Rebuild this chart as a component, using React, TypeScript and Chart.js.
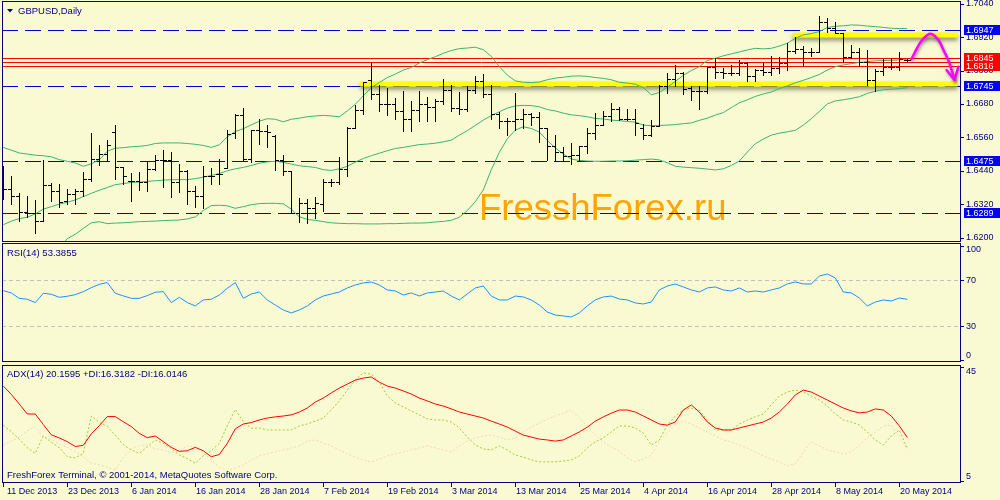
import { useEffect, useRef } from 'react';
import { Chart, registerables } from 'chart.js';

Chart.register(...registerables);

// ---------- text ----------
const SYMBOL_TITLE = 'GBPUSD,Daily';
const RSI_TITLE = 'RSI(14) 53.3855';
const ADX_TITLE = 'ADX(14) 20.1595 +DI:16.3182 -DI:16.0146';
const COPYRIGHT = 'FreshForex Terminal, \u00a9 2001-2014, MetaQuotes Software Corp.';
const WATERMARK = 'FresshForex.ru';

// ---------- x axis ----------
const DATE_LABELS = ['11 Dec 2013', '23 Dec 2013', '6 Jan 2014', '16 Jan 2014', '28 Jan 2014', '7 Feb 2014', '19 Feb 2014', '3 Mar 2014', '13 Mar 2014', '25 Mar 2014', '4 Apr 2014', '16 Apr 2014', '28 Apr 2014', '8 May 2014', '20 May 2014'];
const DATE_STEP = 8;
const X_MIN = -0.16;
const X_MAX = 119.71;

// ---------- price (OHLC) ----------
const OPEN = [1.6400, 1.6374, 1.6350, 1.6293, 1.6290, 1.6261, 1.6390, 1.6368, 1.6332, 1.6356,
  1.6369, 1.6410, 1.6482, 1.6500, 1.6579, 1.6452, 1.6402, 1.6402, 1.6398, 1.6446,
  1.6480, 1.6480, 1.6398, 1.6440, 1.6368, 1.6351, 1.6422, 1.6428, 1.6450, 1.6576,
  1.6639, 1.6482, 1.6585, 1.6582, 1.6564, 1.6480, 1.6438, 1.6290, 1.6323, 1.6305,
  1.6321, 1.6398, 1.6398, 1.6446, 1.6594, 1.6658, 1.6766, 1.6715, 1.6681, 1.6681,
  1.6655, 1.6625, 1.6658, 1.6681, 1.6670, 1.6691, 1.6729, 1.6667, 1.6663, 1.6729,
  1.6763, 1.6715, 1.6643, 1.6619, 1.6619, 1.6625, 1.6643, 1.6634, 1.6594, 1.6528,
  1.6506, 1.6492, 1.6498, 1.6528, 1.6576, 1.6603, 1.6637, 1.6663, 1.6625, 1.6627,
  1.6593, 1.6569, 1.6602, 1.6745, 1.6769, 1.6793, 1.6737, 1.6728, 1.6728, 1.6812,
  1.6794, 1.6790, 1.6793, 1.6826, 1.6781, 1.6802, 1.6796, 1.6808, 1.6826, 1.6870,
  1.6876, 1.6868, 1.6865, 1.6976, 1.6952, 1.6934, 1.6848, 1.6865, 1.6832, 1.6767,
  1.6800, 1.6812, 1.6812, 1.6838];
const HIGH = [1.6458, 1.6422, 1.6359, 1.6350, 1.6335, 1.6478, 1.6396, 1.6393, 1.6374, 1.6374,
  1.6437, 1.6576, 1.6533, 1.6549, 1.6603, 1.6452, 1.6432, 1.6437, 1.6476, 1.6498,
  1.6516, 1.6506, 1.6465, 1.6441, 1.6384, 1.6458, 1.6450, 1.6482, 1.6588, 1.6643,
  1.6667, 1.6588, 1.6627, 1.6606, 1.6567, 1.6498, 1.6438, 1.6341, 1.6338, 1.6347,
  1.6410, 1.6410, 1.6488, 1.6598, 1.6675, 1.6760, 1.6829, 1.6747, 1.6739, 1.6703,
  1.6727, 1.6691, 1.6727, 1.6705, 1.6697, 1.6769, 1.6747, 1.6723, 1.6745, 1.6779,
  1.6787, 1.6747, 1.6651, 1.6631, 1.6718, 1.6663, 1.6649, 1.6651, 1.6594, 1.6567,
  1.6526, 1.6538, 1.6530, 1.6594, 1.6649, 1.6655, 1.6685, 1.6670, 1.6663, 1.6663,
  1.6609, 1.6623, 1.6749, 1.6793, 1.6820, 1.6795, 1.6743, 1.6745, 1.6814, 1.6844,
  1.6808, 1.6820, 1.6838, 1.6832, 1.6805, 1.6829, 1.6853, 1.6850, 1.6898, 1.6919,
  1.6888, 1.6880, 1.6996, 1.6988, 1.6976, 1.6934, 1.6892, 1.6880, 1.6874, 1.6805,
  1.6841, 1.6844, 1.6865, 1.6841];
const LOW = [1.6338, 1.6320, 1.6261, 1.6275, 1.6217, 1.6258, 1.6332, 1.6311, 1.6321, 1.6320,
  1.6350, 1.6402, 1.6462, 1.6474, 1.6410, 1.6393, 1.6332, 1.6371, 1.6368, 1.6441,
  1.6380, 1.6344, 1.6365, 1.6320, 1.6311, 1.6305, 1.6392, 1.6394, 1.6450, 1.6558,
  1.6480, 1.6470, 1.6537, 1.6526, 1.6441, 1.6425, 1.6287, 1.6255, 1.6251, 1.6269,
  1.6297, 1.6384, 1.6393, 1.6422, 1.6594, 1.6643, 1.6697, 1.6655, 1.6639, 1.6627,
  1.6582, 1.6582, 1.6619, 1.6619, 1.6619, 1.6679, 1.6655, 1.6643, 1.6655, 1.6718,
  1.6706, 1.6625, 1.6594, 1.6570, 1.6588, 1.6594, 1.6606, 1.6543, 1.6478, 1.6474,
  1.6474, 1.6465, 1.6474, 1.6504, 1.6555, 1.6603, 1.6619, 1.6622, 1.6622, 1.6570,
  1.6554, 1.6566, 1.6602, 1.6721, 1.6745, 1.6715, 1.6695, 1.6661, 1.6721, 1.6773,
  1.6773, 1.6784, 1.6784, 1.6761, 1.6764, 1.6784, 1.6784, 1.6790, 1.6802, 1.6862,
  1.6817, 1.6853, 1.6865, 1.6940, 1.6934, 1.6832, 1.6844, 1.6817, 1.6749, 1.6728,
  1.6784, 1.6805, 1.6802, 1.6836];
const CLOSE = [1.6374, 1.6350, 1.6293, 1.6290, 1.6261, 1.6390, 1.6368, 1.6327, 1.6356, 1.6369,
  1.6410, 1.6482, 1.6500, 1.6531, 1.6452, 1.6420, 1.6402, 1.6398, 1.6446, 1.6480,
  1.6480, 1.6398, 1.6440, 1.6368, 1.6351, 1.6422, 1.6422, 1.6428, 1.6573, 1.6639,
  1.6482, 1.6585, 1.6582, 1.6579, 1.6480, 1.6438, 1.6290, 1.6323, 1.6305, 1.6323,
  1.6398, 1.6398, 1.6446, 1.6594, 1.6658, 1.6760, 1.6715, 1.6681, 1.6681, 1.6655,
  1.6625, 1.6658, 1.6681, 1.6670, 1.6691, 1.6729, 1.6667, 1.6663, 1.6729, 1.6763,
  1.6715, 1.6643, 1.6619, 1.6619, 1.6625, 1.6643, 1.6634, 1.6594, 1.6528, 1.6506,
  1.6492, 1.6498, 1.6528, 1.6576, 1.6603, 1.6637, 1.6663, 1.6625, 1.6627, 1.6612,
  1.6569, 1.6602, 1.6745, 1.6769, 1.6793, 1.6733, 1.6728, 1.6728, 1.6812, 1.6794,
  1.6790, 1.6790, 1.6826, 1.6781, 1.6802, 1.6796, 1.6808, 1.6826, 1.6870, 1.6876,
  1.6868, 1.6865, 1.6976, 1.6952, 1.6934, 1.6848, 1.6865, 1.6832, 1.6767, 1.6800,
  1.6812, 1.6812, 1.6841, 1.6838];

// ---------- Bollinger bands ----------
const BB_UPPER = [1.6524, 1.6514, 1.6504, 1.6500, 1.6496, 1.6494, 1.6490, 1.6480, 1.6474, 1.6468,
  1.6456, 1.6465, 1.6480, 1.6510, 1.6521, 1.6523, 1.6526, 1.6528, 1.6531, 1.6538,
  1.6540, 1.6540, 1.6540, 1.6538, 1.6535, 1.6531, 1.6524, 1.6533, 1.6562, 1.6581,
  1.6591, 1.6605, 1.6618, 1.6627, 1.6625, 1.6616, 1.6625, 1.6629, 1.6634, 1.6637,
  1.6639, 1.6637, 1.6634, 1.6655, 1.6679, 1.6709, 1.6739, 1.6757, 1.6775, 1.6787,
  1.6802, 1.6811, 1.6827, 1.6839, 1.6850, 1.6862, 1.6872, 1.6879, 1.6881, 1.6884,
  1.6875, 1.6851, 1.6814, 1.6784, 1.6763, 1.6758, 1.6757, 1.6759, 1.6767, 1.6773,
  1.6776, 1.6780, 1.6781, 1.6779, 1.6775, 1.6772, 1.6767, 1.6758, 1.6755, 1.6751,
  1.6739, 1.6713, 1.6721, 1.6740, 1.6761, 1.6783, 1.6800, 1.6814, 1.6836, 1.6844,
  1.6853, 1.6860, 1.6867, 1.6874, 1.6880, 1.6878, 1.6880, 1.6888, 1.6898, 1.6916,
  1.6928, 1.6933, 1.6940, 1.6955, 1.6959, 1.6961, 1.6964, 1.6963, 1.6960, 1.6958,
  1.6955, 1.6952, 1.6951, 1.6951];
const BB_MIDDLE = [1.6246, 1.6259, 1.6268, 1.6273, 1.6285, 1.6302, 1.6311, 1.6320, 1.6327, 1.6335,
  1.6347, 1.6359, 1.6370, 1.6380, 1.6390, 1.6394, 1.6398, 1.6399, 1.6402, 1.6404,
  1.6406, 1.6408, 1.6408, 1.6408, 1.6412, 1.6417, 1.6423, 1.6430, 1.6440, 1.6447,
  1.6452, 1.6459, 1.6467, 1.6472, 1.6474, 1.6470, 1.6464, 1.6458, 1.6455, 1.6452,
  1.6444, 1.6441, 1.6447, 1.6456, 1.6471, 1.6484, 1.6494, 1.6503, 1.6512, 1.6520,
  1.6524, 1.6529, 1.6534, 1.6536, 1.6539, 1.6544, 1.6550, 1.6568, 1.6584, 1.6603,
  1.6622, 1.6638, 1.6652, 1.6665, 1.6673, 1.6675, 1.6674, 1.6670, 1.6660, 1.6655,
  1.6647, 1.6641, 1.6638, 1.6634, 1.6628, 1.6626, 1.6622, 1.6620, 1.6617, 1.6615,
  1.6604, 1.6602, 1.6603, 1.6604, 1.6606, 1.6609, 1.6612, 1.6621, 1.6629, 1.6640,
  1.6649, 1.6667, 1.6684, 1.6695, 1.6707, 1.6716, 1.6723, 1.6735, 1.6745, 1.6756,
  1.6765, 1.6775, 1.6786, 1.6802, 1.6814, 1.6820, 1.6825, 1.6829, 1.6832, 1.6835,
  1.6836, 1.6837, 1.6838, 1.6841];
const BB_LOWER = [1.5968, 1.6004, 1.6032, 1.6046, 1.6074, 1.6110, 1.6132, 1.6160, 1.6196, 1.6212,
  1.6233, 1.6253, 1.6257, 1.6250, 1.6252, 1.6253, 1.6255, 1.6257, 1.6258, 1.6259,
  1.6261, 1.6262, 1.6263, 1.6267, 1.6274, 1.6297, 1.6315, 1.6316, 1.6314, 1.6305,
  1.6311, 1.6318, 1.6322, 1.6323, 1.6323, 1.6321, 1.6302, 1.6275, 1.6265, 1.6262,
  1.6257, 1.6253, 1.6251, 1.6250, 1.6250, 1.6249, 1.6249, 1.6249, 1.6250, 1.6250,
  1.6251, 1.6252, 1.6252, 1.6253, 1.6256, 1.6258, 1.6262, 1.6273, 1.6297, 1.6329,
  1.6371, 1.6444, 1.6506, 1.6555, 1.6586, 1.6598, 1.6592, 1.6579, 1.6549, 1.6522,
  1.6500, 1.6482, 1.6477, 1.6475, 1.6474, 1.6474, 1.6475, 1.6475, 1.6476, 1.6478,
  1.6480, 1.6482, 1.6479, 1.6469, 1.6456, 1.6453, 1.6451, 1.6449, 1.6446, 1.6443,
  1.6447, 1.6459, 1.6475, 1.6507, 1.6537, 1.6554, 1.6568, 1.6575, 1.6580, 1.6585,
  1.6604, 1.6627, 1.6653, 1.6680, 1.6691, 1.6695, 1.6700, 1.6706, 1.6718, 1.6726,
  1.6731, 1.6733, 1.6735, 1.6739];

// ---------- price axis / levels / drawings ----------
const PRICE_MIN = 1.6184;
const PRICE_MAX = 1.7050;
const PRICE_TICKS = [1.6200, 1.6320, 1.6440, 1.6560, 1.6680, 1.6800, 1.6920, 1.7040];
const BLUE_LEVELS = [1.6947, 1.6745, 1.6475, 1.6289];
const RED_LEVELS = [1.6845, 1.6831, 1.6816];
const RED_LABELS = [1.6845, 1.6816];
const YELLOW_PRICE = [1.6927, 1.6752];
const YELLOW_FROM = [98.7, 44.6];
const YELLOW_TO = [119.3, 119.3];
const ARROW_X = [113.5, 114.6, 115.5, 116.1, 116.9, 117.5, 118.2, 118.6, 118.9];
const ARROW_Y = [1.6841, 1.6900, 1.6928, 1.6931, 1.6910, 1.6875, 1.6832, 1.6796, 1.6767];
const ARROW_HEAD_X = [117.9, 118.9, 119.4];
const ARROW_HEAD_Y = [1.6802, 1.6767, 1.6814];

// ---------- RSI ----------
const RSI = [61.0, 59.0, 54.3, 53.5, 50.6, 58.7, 57.8, 55.2, 56.1, 57.5,
  60.1, 63.6, 66.5, 68.0, 58.7, 56.4, 54.3, 54.3, 56.7, 59.6,
  60.1, 50.6, 55.2, 50.6, 47.7, 52.9, 53.5, 57.2, 63.0, 68.0,
  54.3, 58.1, 59.8, 52.9, 48.5, 44.2, 41.6, 44.2, 47.7, 52.9,
  56.3, 58.1, 59.8, 63.3, 65.9, 67.7, 68.5, 65.9, 61.6, 60.7,
  57.2, 59.0, 56.3, 59.0, 59.8, 60.7, 56.3, 52.9, 58.1, 63.3,
  65.0, 56.3, 52.9, 52.9, 56.3, 55.5, 52.9, 48.5, 42.4, 39.8,
  39.0, 38.1, 41.6, 47.7, 52.9, 55.5, 56.3, 53.7, 52.9, 50.3,
  49.4, 51.1, 61.6, 65.0, 66.8, 64.2, 61.6, 59.8, 63.3, 64.2,
  61.6, 60.7, 63.3, 59.8, 60.7, 59.8, 61.6, 63.3, 66.8, 68.5,
  66.8, 66.8, 73.7, 75.5, 72.0, 59.8, 59.0, 54.6, 47.7, 51.1,
  52.9, 52.0, 54.6, 53.4];
const RSI_MIN = -1.04;
const RSI_MAX = 102.4;
const RSI_TICKS = [100, 70, 30, 0];
const RSI_LEVELS = [70, 30];

// ---------- ADX ----------
const ADX = [38.2, 35.3, 31.9, 28.4, 28.4, 24.7, 21.1, 20.0, 18.7, 17.0,
  17.4, 21.4, 24.3, 27.5, 27.5, 25.7, 24.0, 21.6, 20.1, 20.7,
  18.7, 16.7, 15.3, 15.5, 16.7, 15.5, 13.4, 14.2, 18.1, 23.2,
  24.9, 25.4, 26.3, 27.0, 27.4, 27.7, 28.1, 29.1, 30.5, 32.6,
  34.0, 35.8, 37.5, 38.9, 40.3, 41.0, 41.4, 39.6, 38.2, 37.5,
  36.5, 35.4, 34.0, 33.0, 31.9, 31.2, 30.2, 29.1, 28.4, 27.7,
  27.0, 25.9, 24.9, 23.8, 22.4, 21.0, 20.3, 19.6, 19.3, 18.9,
  19.3, 20.7, 22.1, 23.8, 25.9, 27.4, 28.7, 29.8, 29.8, 29.1,
  27.7, 26.3, 24.9, 24.5, 25.6, 29.8, 31.6, 29.1, 25.6, 23.5,
  22.8, 22.8, 23.5, 24.2, 24.9, 25.6, 27.0, 29.1, 31.9, 35.1,
  36.8, 36.1, 34.7, 33.3, 31.9, 30.5, 29.5, 28.8, 29.1, 30.2,
  29.8, 27.7, 24.2, 20.2];
const PLUS_DI = [24.5, 22.2, 19.5, 16.6, 14.6, 20.7, 18.5, 16.6, 13.4, 13.0,
  14.6, 27.7, 25.4, 24.0, 21.0, 17.6, 15.8, 14.6, 16.9, 19.3,
  18.1, 16.3, 14.0, 12.8, 11.1, 13.7, 15.5, 18.1, 24.3, 30.0,
  25.7, 23.4, 23.5, 22.8, 22.8, 22.8, 22.8, 24.2, 24.9, 25.9,
  27.0, 29.8, 33.0, 36.8, 40.3, 42.8, 42.4, 39.6, 34.7, 32.3,
  30.9, 29.5, 28.1, 26.7, 26.3, 26.3, 25.6, 23.5, 20.3, 17.5,
  16.1, 15.8, 17.2, 15.8, 14.0, 13.3, 12.3, 11.6, 11.6, 11.6,
  11.9, 12.3, 13.7, 16.5, 18.6, 20.0, 22.1, 24.2, 24.2, 23.5,
  21.7, 17.5, 19.3, 24.5, 27.7, 29.8, 30.5, 29.8, 26.3, 22.8,
  22.8, 22.8, 24.9, 26.3, 27.4, 28.4, 31.6, 34.7, 36.1, 36.8,
  36.1, 34.7, 33.3, 31.2, 28.4, 26.3, 25.6, 24.5, 22.1, 19.3,
  17.5, 20.7, 22.8, 16.3];
const MINUS_DI = [17.5, 18.9, 20.3, 22.5, 24.0, 20.4, 19.5, 17.9, 16.7, 15.1,
  13.4, 11.1, 10.6, 9.7, 8.7, 13.2, 16.0, 17.4, 17.5, 16.2,
  15.8, 14.8, 15.5, 17.2, 16.9, 14.8, 12.2, 9.7, 8.7, 9.4,
  10.5, 12.2, 13.7, 14.4, 15.1, 15.8, 16.5, 17.2, 18.9, 19.3,
  18.2, 17.2, 15.8, 14.4, 13.3, 12.3, 11.6, 12.6, 13.7, 14.4,
  15.1, 15.8, 16.5, 17.2, 16.5, 15.8, 15.1, 17.2, 18.9, 20.0,
  20.7, 21.0, 20.3, 19.3, 20.0, 22.1, 23.8, 25.2, 26.6, 27.7,
  28.7, 29.8, 27.0, 24.2, 21.0, 18.6, 16.8, 15.4, 13.0, 11.6,
  12.6, 14.0, 18.9, 21.7, 24.9, 25.9, 24.9, 23.5, 22.1, 20.7,
  19.3, 18.6, 17.5, 16.5, 15.1, 13.7, 12.6, 11.6, 10.2, 10.9,
  15.1, 18.6, 17.2, 15.8, 15.1, 14.4, 15.1, 17.5, 20.0, 22.1,
  24.2, 24.5, 20.3, 16.0];
const ADX_MIN = 4.19;
const ADX_MAX = 45.6;
const ADX_TICKS = [45, 5];

// ---------- style ----------
const FONT = '"Liberation Sans", Arial, sans-serif';
const BG = '#FAFAD2';
const NAVY = '#000080';
const LEVEL_BLUE = '#0000D0';
const BOX_BLUE = '#0000FF';
const BB_GREEN = '#3CB371';
const RSI_BLUE = '#1E90FF';

const pts = (arr: number[]) => arr.map((v, i) => ({ x: i, y: v }));
const snap = (v: number) => Math.round(v) + 0.5;
function seg(ctx: any, x1: number, y1: number, x2: number, y2: number) {
  ctx.beginPath();
  ctx.moveTo(x1, y1);
  ctx.lineTo(x2, y2);
  ctx.stroke();
}

function drawFrame(ctx: any, a: any) {
  ctx.save();
  ctx.strokeStyle = NAVY;
  ctx.lineWidth = 1;
  ctx.setLineDash([]);
  ctx.strokeRect(a.left + 0.5, a.top + 0.5, a.right - a.left - 1, a.bottom - a.top - 1);
  ctx.restore();
}

function drawRightAxis(ctx: any, a: any, scale: any, ticks: number[], fmt: (v: number) => string, clamp: boolean) {
  ctx.save();
  ctx.strokeStyle = NAVY;
  ctx.fillStyle = NAVY;
  ctx.lineWidth = 1;
  ctx.font = `9px ${FONT}`;
  ctx.textAlign = 'left';
  ctx.textBaseline = 'middle';
  ticks.forEach((v) => {
    const p = scale.getPixelForValue(v);
    const py = snap(Math.min(Math.max(p, a.top + 1), a.bottom - 2));
    seg(ctx, a.right, py, a.right + 3, py);
    const ly = clamp ? Math.min(Math.max(p, a.top + 6.5), a.bottom - 6.5) : p;
    ctx.fillText(fmt(v), a.right + 5, ly);
  });
  ctx.restore();
}

function drawTitle(ctx: any, text: string, x: number, y: number) {
  ctx.save();
  ctx.fillStyle = NAVY;
  ctx.font = `9.5px ${FONT}`;
  ctx.textAlign = 'left';
  ctx.textBaseline = 'middle';
  ctx.fillText(text, x, y);
  ctx.restore();
}

const shadowPlugin = {
  id: 'shadowLines',
  beforeDatasetDraw(chart: any, args: any) {
    const ds = chart.data.datasets[args.index];
    if (ds.shadow) {
      chart.ctx.save();
      chart.ctx.shadowColor = 'rgba(90,40,90,0.55)';
      chart.ctx.shadowBlur = 3;
      chart.ctx.shadowOffsetX = 1;
      chart.ctx.shadowOffsetY = 2;
    }
  },
  afterDatasetDraw(chart: any, args: any) {
    const ds = chart.data.datasets[args.index];
    if (ds.shadow) chart.ctx.restore();
  },
};

const mainPlugin = {
  id: 'mainDecor',
  beforeDatasetsDraw(chart: any) {
    const { ctx, chartArea: a, scales } = chart;
    const x = scales.x;
    const y = scales.y;
    ctx.save();
    ctx.beginPath();
    ctx.rect(a.left, a.top, a.right - a.left, a.bottom - a.top);
    ctx.clip();
    // watermark
    ctx.font = `36.5px ${FONT}`;
    ctx.fillStyle = '#FFA500';
    ctx.textAlign = 'left';
    ctx.textBaseline = 'alphabetic';
    ctx.fillText(WATERMARK, 479, 220);
    // blue dashed levels
    ctx.lineWidth = 1;
    ctx.strokeStyle = LEVEL_BLUE;
    ctx.setLineDash([16, 7]);
    BLUE_LEVELS.forEach((v) => {
      const py = snap(y.getPixelForValue(v));
      seg(ctx, a.left, py, a.right, py);
    });
    ctx.setLineDash([]);
    // red lines
    ctx.strokeStyle = '#FF0000';
    RED_LEVELS.forEach((v) => {
      const py = snap(y.getPixelForValue(v));
      seg(ctx, a.left, py, a.right, py);
    });
    // yellow highlight bands
    ctx.save();
    ctx.strokeStyle = '#FFFF00';
    ctx.lineWidth = 5;
    ctx.shadowColor = 'rgba(70,70,50,0.6)';
    ctx.shadowBlur = 4;
    ctx.shadowOffsetY = 3;
    YELLOW_PRICE.forEach((v, k) => {
      const py = Math.round(y.getPixelForValue(v));
      seg(ctx, x.getPixelForValue(YELLOW_FROM[k]), py, x.getPixelForValue(YELLOW_TO[k]), py);
    });
    ctx.restore();
    ctx.restore();
  },
  afterDatasetsDraw(chart: any) {
    const { ctx, chartArea: a, scales } = chart;
    const x = scales.x;
    const y = scales.y;
    ctx.save();
    ctx.beginPath();
    ctx.rect(a.left, a.top, a.right - a.left, a.bottom - a.top);
    ctx.clip();
    ctx.strokeStyle = '#000000';
    ctx.lineWidth = 1;
    for (let i = 0; i < OPEN.length; i++) {
      const px = snap(x.getPixelForValue(i));
      const yh = Math.round(y.getPixelForValue(HIGH[i]));
      const yl = Math.round(y.getPixelForValue(LOW[i]));
      const yo = snap(y.getPixelForValue(OPEN[i]));
      const yc = snap(y.getPixelForValue(CLOSE[i]));
      seg(ctx, px, yh, px, yl + 1);
      seg(ctx, px - 3.5, yo, px, yo);
      seg(ctx, px, yc, px + 3.5, yc);
    }
    ctx.restore();
  },
  afterDraw(chart: any) {
    const { ctx, chartArea: a, scales } = chart;
    const y = scales.y;
    drawFrame(ctx, a);
    drawRightAxis(ctx, a, y, PRICE_TICKS, (v) => v.toFixed(4), false);
    // level label boxes
    ctx.save();
    ctx.font = `9px ${FONT}`;
    ctx.textAlign = 'left';
    ctx.textBaseline = 'middle';
    const boxes: any[] = [];
    BLUE_LEVELS.forEach((v) => boxes.push({ v, c: BOX_BLUE }));
    RED_LABELS.forEach((v) => boxes.push({ v, c: '#FF0000' }));
    boxes.forEach((b) => {
      const p = Math.round(y.getPixelForValue(b.v));
      ctx.fillStyle = b.c;
      ctx.fillRect(a.right + 3, p - 5, 1000 - a.right - 3, 10);
    });
    ctx.fillStyle = '#FFFFFF';
    boxes.forEach((b) => {
      const p = Math.round(y.getPixelForValue(b.v));
      ctx.fillText(b.v.toFixed(4), a.right + 5, p + 0.5);
    });
    ctx.restore();
    // symbol title with triangle
    ctx.save();
    ctx.fillStyle = NAVY;
    ctx.beginPath();
    ctx.moveTo(7, 9);
    ctx.lineTo(13, 9);
    ctx.lineTo(10, 12.5);
    ctx.closePath();
    ctx.fill();
    ctx.restore();
    drawTitle(ctx, SYMBOL_TITLE, 18, 11);
  },
};

const rsiPlugin = {
  id: 'rsiDecor',
  beforeDatasetsDraw(chart: any) {
    const { ctx, chartArea: a, scales } = chart;
    ctx.save();
    ctx.strokeStyle = '#C0C0C0';
    ctx.lineWidth = 1;
    ctx.setLineDash([4, 3]);
    RSI_LEVELS.forEach((v) => {
      const py = snap(scales.y.getPixelForValue(v));
      seg(ctx, a.left, py, a.right, py);
    });
    ctx.restore();
  },
  afterDraw(chart: any) {
    const { ctx, chartArea: a, scales } = chart;
    drawFrame(ctx, a);
    drawRightAxis(ctx, a, scales.y, RSI_TICKS, (v) => String(v), true);
    drawTitle(ctx, RSI_TITLE, 7, 10);
  },
};

const adxPlugin = {
  id: 'adxDecor',
  afterDraw(chart: any) {
    const { ctx, chartArea: a, scales } = chart;
    drawFrame(ctx, a);
    drawRightAxis(ctx, a, scales.y, ADX_TICKS, (v) => String(v), true);
    drawTitle(ctx, ADX_TITLE, 7, 11);
    drawTitle(ctx, COPYRIGHT, 7, 112);
    // date axis
    ctx.save();
    ctx.strokeStyle = NAVY;
    ctx.fillStyle = NAVY;
    ctx.lineWidth = 1;
    ctx.font = `9px ${FONT}`;
    ctx.textAlign = 'left';
    ctx.textBaseline = 'middle';
    DATE_LABELS.forEach((lab, k) => {
      const px = snap(scales.x.getPixelForValue(k * DATE_STEP));
      seg(ctx, px, a.bottom, px, a.bottom + 4);
      ctx.fillText(lab, px + (k === 0 ? 3.5 : 0.5), a.bottom + 9);
    });
    ctx.restore();
  },
};

const baseOptions = (yMin: number, yMax: number, padding: any) => ({
  responsive: false,
  maintainAspectRatio: false,
  animation: false as const,
  events: [],
  layout: { padding },
  scales: {
    x: { type: 'linear' as const, min: X_MIN, max: X_MAX, display: false },
    y: { type: 'linear' as const, min: yMin, max: yMax, display: false },
  },
  plugins: { legend: { display: false }, tooltip: { enabled: false } },
  elements: { point: { radius: 0 }, line: { tension: 0 } },
});

const lineDs = (data: any[], color: string, width: number, dash: number[] = []) => ({
  data,
  borderColor: color,
  borderWidth: width,
  borderDash: dash,
  pointRadius: 0,
  fill: false,
});

export default function App() {
  const mainRef = useRef<HTMLCanvasElement | null>(null);
  const rsiRef = useRef<HTMLCanvasElement | null>(null);
  const adxRef = useRef<HTMLCanvasElement | null>(null);

  useEffect(() => {
    document.body.style.margin = '0';
    const arrowShaft: any = {
      ...lineDs(ARROW_X.map((v, i) => ({ x: v, y: ARROW_Y[i] })), '#FF00FF', 2.5),
      shadow: true,
      borderCapStyle: 'round',
      borderJoinStyle: 'round',
      tension: 0.3,
    };
    const arrowHead: any = {
      ...lineDs(ARROW_HEAD_X.map((v, i) => ({ x: v, y: ARROW_HEAD_Y[i] })), '#FF00FF', 2.5),
      shadow: true,
      borderCapStyle: 'round',
      borderJoinStyle: 'round',
    };
    const main = new Chart(mainRef.current as HTMLCanvasElement, {
      type: 'line',
      data: {
        datasets: [
          arrowShaft,
          arrowHead,
          lineDs(pts(BB_UPPER), BB_GREEN, 1),
          lineDs(pts(BB_MIDDLE), BB_GREEN, 1),
          lineDs(pts(BB_LOWER), BB_GREEN, 1),
        ],
      },
      options: baseOptions(PRICE_MIN, PRICE_MAX, { left: 2, top: 1, right: 39, bottom: 1 }) as any,
      plugins: [mainPlugin, shadowPlugin],
    });
    const rsi = new Chart(rsiRef.current as HTMLCanvasElement, {
      type: 'line',
      data: { datasets: [lineDs(pts(RSI), RSI_BLUE, 1)] },
      options: baseOptions(RSI_MIN, RSI_MAX, { left: 2, top: 0, right: 39, bottom: 1 }) as any,
      plugins: [rsiPlugin],
    });
    const adx = new Chart(adxRef.current as HTMLCanvasElement, {
      type: 'line',
      data: {
        datasets: [
          lineDs(pts(ADX), '#FF0000', 1),
          lineDs(pts(PLUS_DI), '#9ACD32', 1, [2, 2]),
          lineDs(pts(MINUS_DI), '#F5D5B5', 1, [2, 2]),
        ],
      },
      options: baseOptions(ADX_MIN, ADX_MAX, { left: 2, top: 2, right: 39, bottom: 17 }) as any,
      plugins: [adxPlugin],
    });
    return () => {
      main.destroy();
      rsi.destroy();
      adx.destroy();
    };
  }, []);

  return (
    <div style={{ position: 'fixed', left: 0, top: 0, width: 1000, height: 500, background: BG, overflow: 'hidden' }}>
      <canvas ref={mainRef} width={1000} height={243} style={{ position: 'absolute', left: 0, top: 0, width: 1000, height: 243 }} />
      <canvas ref={rsiRef} width={1000} height={120} style={{ position: 'absolute', left: 0, top: 243, width: 1000, height: 120 }} />
      <canvas ref={adxRef} width={1000} height={137} style={{ position: 'absolute', left: 0, top: 363, width: 1000, height: 137 }} />
    </div>
  );
}
